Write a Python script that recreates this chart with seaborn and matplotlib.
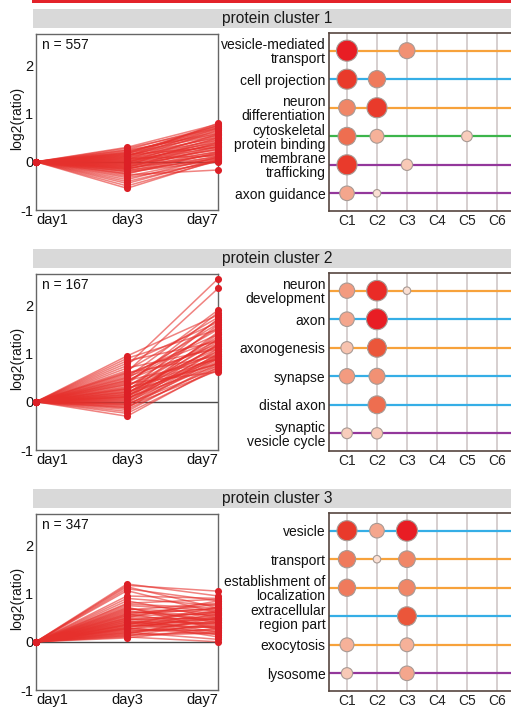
import numpy as np
import pandas as pd
import matplotlib.pyplot as plt
import seaborn as sns
from matplotlib.colors import LinearSegmentedColormap
from matplotlib.patches import Rectangle

# ---- profile data (day3, day7 values per protein; day1 is the reference = 0) ----
days = ["day1", "day3", "day7"]
cluster_n = [557, 167, 347]

c1_day3 = [0.30, 0.28, 0.25, 0.22, 0.20, 0.18, 0.16, 0.14, 0.12, 0.10, 0.08, 0.06, 0.05, 0.03,
           0.02, 0.00, -0.01, -0.03, -0.05, -0.06, -0.08, -0.10, -0.11, -0.13, -0.15, -0.17,
           -0.19, -0.21, -0.24, -0.27, -0.30, -0.33, -0.37, -0.41, -0.45, -0.50, -0.55, 0.11,
           -0.02, 0.07, 0.04, -0.04, 0.13, -0.09, 0.19, -0.14, 0.01, -0.07, 0.09, -0.12,
           0.24, -0.20, 0.15, -0.25, 0.17, -0.16]
c1_day7 = [0.78, 0.70, 0.75, 0.62, 0.68, 0.55, 0.72, 0.50, 0.60, 0.45, 0.52, 0.40, 0.65, 0.35,
           0.48, 0.30, 0.42, 0.25, 0.38, 0.20, 0.33, 0.15, 0.28, 0.10, 0.22, 0.05, 0.18, 0.02,
           0.12, -0.17, 0.08, 0.00, 0.10, 0.03, 0.06, 0.02, 0.04, 0.80, 0.58, 0.12,
           0.55, 0.45, 0.66, 0.26, 0.74, 0.16, 0.36, 0.50, 0.70, 0.40,
           0.58, 0.08, 0.30, 0.20, 0.76, 0.32]

c2_day3 = [0.95, 0.90, 0.85, 0.80, 0.75, 0.70, 0.62, 0.55, 0.50, 0.45, 0.40, 0.35, 0.30, 0.27,
           0.24, 0.20, 0.18, 0.15, 0.12, 0.10, 0.08, 0.05, 0.03, 0.00, -0.02, -0.05, -0.08,
           -0.10, -0.13, -0.16, -0.20, -0.24, -0.30, 0.65, 0.38, 0.22, 0.60, 0.14, -0.04, 0.32,
           0.26, 0.42, 0.16, 0.06, 0.48, 0.28, -0.06, 0.52, 0.11, 0.36, 0.02, 0.20, 0.58,
           -0.12, 0.44, 0.09]
c2_day7 = [1.80, 1.50, 1.25, 1.65, 2.55, 1.10, 2.35, 1.40, 1.90, 1.20, 1.70, 1.00, 1.55, 0.90,
           1.35, 0.80, 1.15, 1.60, 0.95, 1.30, 0.75, 1.05, 1.45, 0.85, 1.20, 0.70, 1.00, 0.65,
           0.90, 0.75, 0.80, 0.68, 0.72, 1.75, 0.62, 1.72, 0.95, 0.88, 1.10, 1.28,
           1.10, 1.50, 1.25, 0.92, 1.62, 0.78, 0.82, 1.15, 1.40, 1.85, 0.98, 1.05, 1.30,
           0.95, 0.88, 1.18]

c3_day3 = [1.20, 1.17, 1.14, 1.10, 1.06, 0.95, 0.90, 0.85, 0.80, 0.75, 0.70, 0.66, 0.62, 0.58,
           0.55, 0.52, 0.48, 0.45, 0.42, 0.40, 0.37, 0.34, 0.31, 0.28, 0.26, 0.23, 0.20, 0.18,
           0.15, 0.12, 0.10, 0.08, 0.60, 0.50, 0.35, 0.25, 0.72, 0.44, 0.30, 0.16,
           0.46, 0.33, 0.54, 0.22, 0.64, 0.38, 0.27, 0.49, 0.19, 0.57, 0.41, 0.68, 0.13,
           0.36, 0.78, 0.29]
c3_day7 = [0.95, 1.05, 0.70, 0.85, 0.60, 0.90, 0.75, 0.50, 0.88, 0.65, 0.40, 0.80, 0.55, 0.30,
           0.70, 0.45, 0.20, 0.62, 0.38, 0.10, 0.55, 0.30, 0.48, 0.15, 0.42, 0.25, 0.05, 0.35,
           0.20, 0.40, 0.00, 0.28, 0.68, 0.85, 0.72, 0.58, 0.25, 0.15, 0.62, 0.50,
           0.50, 0.40, 0.58, 0.32, 0.45, 0.65, 0.22, 0.35, 0.45, 0.78, 0.28, 0.60, 0.18,
           0.48, 0.70, 0.52]

# ---- enrichment data ----
columns = ["C1", "C2", "C3", "C4", "C5", "C6"]

c1_terms = ["vesicle-mediated\ntransport", "cell projection", "neuron\ndifferentiation",
            "cytoskeletal\nprotein binding", "membrane\ntrafficking", "axon guidance"]
c1_kind = ["BP", "CC", "BP", "MF", "PW", "PW"]
c1_row = [0, 0, 1, 1, 2, 2, 3, 3, 3, 4, 4, 5, 5]
c1_col = [1, 3, 1, 2, 1, 2, 1, 2, 5, 1, 3, 1, 2]
c1_score = [1.0, 0.55, 0.9, 0.65, 0.6, 0.9, 0.7, 0.4, 0.22, 0.9, 0.25, 0.45, 0.08]

c2_terms = ["neuron\ndevelopment", "axon", "axonogenesis", "synapse", "distal axon",
            "synaptic\nvesicle cycle"]
c2_kind = ["BP", "CC", "BP", "CC", "CC", "PW"]
c2_row = [0, 0, 0, 1, 1, 2, 2, 3, 3, 4, 5, 5]
c2_col = [1, 2, 3, 1, 2, 1, 2, 1, 2, 2, 1, 2]
c2_score = [0.5, 0.95, 0.08, 0.45, 1.0, 0.3, 0.8, 0.5, 0.55, 0.7, 0.22, 0.25]

c3_terms = ["vesicle", "transport", "establishment of\nlocalization", "extracellular\nregion part",
            "exocytosis", "lysosome"]
c3_kind = ["CC", "BP", "BP", "CC", "BP", "PW"]
c3_row = [0, 0, 0, 1, 1, 1, 2, 2, 3, 4, 4, 5, 5]
c3_col = [1, 2, 3, 1, 2, 3, 1, 3, 3, 1, 3, 1, 3]
c3_score = [0.9, 0.45, 1.0, 0.65, 0.08, 0.6, 0.65, 0.6, 0.8, 0.4, 0.4, 0.25, 0.45]

kind_colors = {"BP": "#f7a23b", "CC": "#35aee6", "MF": "#3cb54b", "PW": "#93379b"}

W, H = 511, 709
sns.set_theme(style="white")
plt.rcParams['font.family'] = ['Liberation Sans', 'DejaVu Sans']
plt.rcParams['axes.unicode_minus'] = False

fig = plt.figure(figsize=(W / 100, H / 100), dpi=100)


def px_axes(x0, y0, x1, y1):
    return fig.add_axes([x0 / W, 1 - y1 / H, (x1 - x0) / W, (y1 - y0) / H])


dot_cmap = LinearSegmentedColormap.from_list(
    "enrich", [(0.0, "#fbe9e0"), (0.35, "#f7bca6"), (0.6, "#f08667"),
               (0.85, "#ea4a2f"), (1.0, "#e81d24")])

# red bar at top
fig.add_artist(Rectangle((32 / W, 1 - 3 / H), (W - 32) / W, 3 / H,
                         transform=fig.transFigure, color="#e3222a", lw=0))

profiles = [(c1_day3, c1_day7), (c2_day3, c2_day7), (c3_day3, c3_day7)]
enrich = [(c1_terms, c1_kind, c1_row, c1_col, c1_score),
          (c2_terms, c2_kind, c2_row, c2_col, c2_score),
          (c3_terms, c3_kind, c3_row, c3_col, c3_score)]

for k in range(3):
    off = 240 * k

    # grey title band
    fig.add_artist(Rectangle((33 / W, 1 - (28 + off) / H), (W - 33) / W, 19 / H,
                             transform=fig.transFigure, color="#d9d9d9", lw=0))
    fig.text(277.5 / W, 1 - (18.5 + off) / H, "protein cluster %d" % (k + 1),
             ha="center", va="center", fontsize=11.2, color="#1a1a1a")

    # ---- profile panel ----
    d3, d7 = profiles[k]
    rows = []
    for i, (a, b) in enumerate(zip(d3, d7)):
        rows.append({"protein": i, "day": 0, "value": 0.0})
        rows.append({"protein": i, "day": 1, "value": a})
        rows.append({"protein": i, "day": 2, "value": b})
    df = pd.DataFrame(rows)

    ax = px_axes(36, 34 + off, 218, 210 + off)
    ax.axhline(0, color="#4a4a4a", lw=1.0, zorder=1)
    sns.lineplot(data=df, x="day", y="value", units="protein", estimator=None,
                 color="#e6302c", lw=1.1, alpha=0.6, ax=ax, legend=False, zorder=2)
    sns.scatterplot(data=df, x="day", y="value", color="#dc1f26", s=26, linewidth=0,
                    ax=ax, legend=False, zorder=3, clip_on=False)
    ax.set_xlim(0, 2)
    ax.set_ylim(-1, 2.65)
    ax.set_xticks([0, 1, 2])
    ax.set_xticklabels(days, fontsize=10.5, color="#111111")
    for lab, ha in zip(ax.get_xticklabels(), ["left", "center", "right"]):
        lab.set_ha(ha)
    ax.set_yticks([-1, 0, 1, 2])
    ax.set_yticklabels(["-1", "0", "1", "2"], fontsize=10.5, color="#111111")
    ax.tick_params(length=0, pad=2)
    ax.set_xlabel("")
    ax.set_ylabel("log2(ratio)", fontsize=10, color="#111111")
    ax.yaxis.set_label_coords(-0.064, 0.52)
    for sp in ax.spines.values():
        sp.set_color("#666666")
        sp.set_linewidth(1.0)
    ax.text(0.033, 0.975, "n = %d" % cluster_n[k], transform=ax.transAxes,
            ha="left", va="top", fontsize=10, color="#111111")

    # ---- enrichment dot panel ----
    terms, kinds, r, c, s = enrich[k]
    edf = pd.DataFrame({"row": r, "col": c, "score": s})
    bx = px_axes(329, 33 + off, 511, 211 + off)
    bx.set_xlim(0.4, 6.47)
    bx.set_ylim(5.62, -0.62)
    bx.set_xticks(range(1, 7))
    bx.grid(axis="x", color="#d3cbcb", lw=1.3)
    bx.set_axisbelow(True)
    for i, kind in enumerate(kinds):
        bx.axhline(i, color=kind_colors[kind], lw=1.6, zorder=1)
    sns.scatterplot(data=edf, x="col", y="row", hue="score", size="score",
                    palette=dot_cmap, hue_norm=(0, 1), sizes=(12, 230), size_norm=(0, 1),
                    edgecolor="#a89a94", linewidth=0.8, ax=bx, legend=False, zorder=3)
    bx.set_xticklabels(columns, fontsize=10, color="#222222")
    bx.set_yticks(range(len(terms)))
    bx.set_yticklabels(terms, fontsize=10, color="#111111")
    for lab in bx.get_yticklabels():
        lab.set_linespacing(1.0)
    bx.tick_params(length=0, pad=2.5)
    bx.set_xlabel("")
    bx.set_ylabel("")
    for name, sp in bx.spines.items():
        sp.set_color("#56463f")
        sp.set_linewidth(1.2)
    bx.spines["right"].set_visible(False)

fig.savefig("out.png", dpi=100)
